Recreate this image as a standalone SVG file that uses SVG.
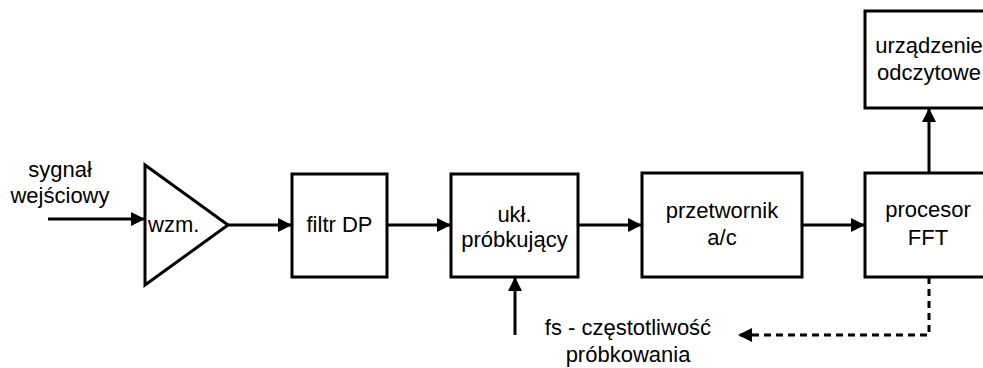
<svg xmlns="http://www.w3.org/2000/svg" width="983" height="368" viewBox="0 0 983 368">
<style>
.b{fill:#fff;stroke:#000;stroke-width:3}
.t{font-family:"Liberation Sans",Arial,sans-serif;font-size:22px;fill:#000;text-anchor:middle}
.c{fill:none;stroke:#000;stroke-width:3}
.d{stroke-dasharray:7 5}
</style>
<defs>
<marker id="ah" viewBox="0 0 14 14" refX="14" refY="7" markerWidth="14" markerHeight="14" markerUnits="userSpaceOnUse" orient="auto">
<path d="M0,0 L14,7 L0,14 Z" fill="#000"/>
</marker>
</defs>
<g id="connectors">
<path class="c" d="M48,219 H145" marker-end="url(#ah)"/>
<path class="c" d="M228,225 H292" marker-end="url(#ah)"/>
<path class="c" d="M387,225 H451" marker-end="url(#ah)"/>
<path class="c" d="M578,225 H642" marker-end="url(#ah)"/>
<path class="c" d="M802,225 H865" marker-end="url(#ah)"/>
<path class="c" d="M929,173 V108" marker-end="url(#ah)"/>
<path class="c" d="M515,335 V277" marker-end="url(#ah)"/>
<path class="c d" d="M929,277 V335 H738" marker-end="url(#ah)"/>
</g>
<g id="input-label">
<text class="t" x="60" y="177">sygnał</text>
<text class="t" x="60" y="203">wejściowy</text>
</g>
<g id="wzm">
<polygon class="b" points="145,165 145,285 228,225"/>
<text class="t" x="148" y="232" style="text-anchor:start">wzm.</text>
</g>
<g id="filtr">
<rect class="b" x="292" y="174" width="95" height="103"/>
<text class="t" x="339.5" y="232">filtr DP</text>
</g>
<g id="uklad">
<rect class="b" x="451" y="174" width="127" height="103"/>
<text class="t" x="514.5" y="222">ukł.</text>
<text class="t" x="514.5" y="247">próbkujący</text>
</g>
<g id="przetwornik">
<rect class="b" x="642" y="173" width="160" height="104"/>
<text class="t" x="722" y="218">przetwornik</text>
<text class="t" x="722" y="245">a/c</text>
</g>
<g id="procesor">
<rect class="b" x="865" y="173" width="126" height="104"/>
<text class="t" x="928" y="217">procesor</text>
<text class="t" x="928" y="245">FFT</text>
</g>
<g id="urzadzenie">
<rect class="b" x="865" y="11" width="126" height="97"/>
<text class="t" x="929" y="53">urządzenie</text>
<text class="t" x="929" y="80">odczytowe</text>
</g>
<g id="fs-label">
<text class="t" x="628" y="335">fs - częstotliwość</text>
<text class="t" x="628" y="362">próbkowania</text>
</g>
</svg>
